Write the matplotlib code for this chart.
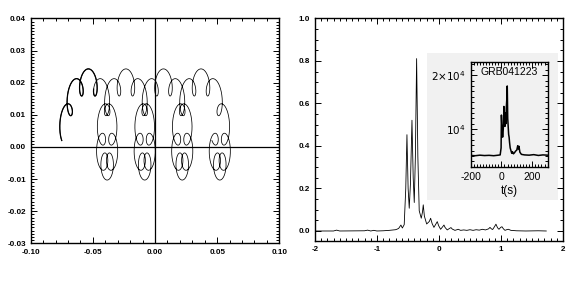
import numpy as np
import matplotlib
matplotlib.use('Agg')
import matplotlib.pyplot as plt
from matplotlib.patches import Rectangle
from matplotlib.ticker import MultipleLocator, FormatStrFormatter, FixedLocator

plt.rcParams['font.family'] = ['Liberation Sans', 'DejaVu Sans']
plt.rcParams['axes.unicode_minus'] = False

# --- left panel: track ---
loop_step = 0.0302          # distance between the big loops
big_rx, big_ry = 0.0116, 0.0135
small_radius = 0.0038
small_per_big = 9
track_origin = (-0.0687, 0.007)
track_turns = (1.45, 8 * np.pi + 1.45)
bold_until = np.pi + 0.5    # first part drawn heavier

# --- right panel: light curve ---
lc_x = [-2.0, -1.7, -1.65, -1.6, -1.2, -1.15, -1.1, -1.05, -1.0, -0.9, -0.8,
        -0.7, -0.68, -0.65, -0.613, -0.59, -0.56, -0.535, -0.516, -0.497,
        -0.479, -0.46, -0.435, -0.415, -0.398, -0.38, -0.36, -0.34, -0.318,
        -0.285, -0.265, -0.253, -0.235, -0.198, -0.155, -0.134, -0.11,
        -0.081, -0.045, -0.027, -0.005, 0.027, 0.06, 0.081, 0.1, 0.134, 0.17,
        0.194, 0.215, 0.258, 0.29, 0.31, 0.35, 0.4, 0.45, 0.5, 0.55, 0.6,
        0.65, 0.7, 0.75, 0.8, 0.823, 0.845, 0.866, 0.895, 0.919, 0.945,
        0.968, 0.995, 1.016, 1.04, 1.065, 1.1, 1.12, 1.16, 1.25, 1.4, 1.6,
        1.73]
lc_y = [0.0, 0.0, 0.004, 0.0, 0.001, 0.004, 0.0, 0.003, 0.0, 0.001, 0.003,
        0.006, 0.008, 0.012, 0.028, 0.014, 0.03, 0.2, 0.453, 0.2,
        0.107, 0.22, 0.521, 0.25, 0.134, 0.35, 0.811, 0.35, 0.095,
        0.06, 0.09, 0.123, 0.07, 0.033, 0.045, 0.06, 0.035,
        0.017, 0.035, 0.044, 0.025, 0.008, 0.02, 0.028, 0.016, 0.005, 0.012,
        0.016, 0.009, 0.003, 0.006, 0.008, 0.003, 0.005, 0.003, 0.006, 0.003,
        0.006, 0.004, 0.008, 0.005, 0.01, 0.017, 0.01, 0.007, 0.02, 0.032,
        0.015, 0.008, 0.017, 0.02, 0.01, 0.003, 0.007, 0.008, 0.003, 0.001,
        0.0, 0.001, 0.0]

# --- inset: GRB041223 counts ---
grb_t = [-200, -170, -140, -110, -80, -50, -20, -8, -2, 0, 4, 8, 11, 14,
         16, 20, 23, 26, 29, 32, 35, 38, 41, 44, 47, 50, 53, 57, 62, 67, 72,
         78, 85, 92, 100, 106, 110, 114, 120, 130, 150, 180, 210, 240, 270,
         300]
grb_c = [5100, 5050, 5150, 5080, 5120, 5050, 5150, 5200, 6500, 12600,
         10000, 8500, 9500, 11000, 14200, 12000, 10500, 13000, 11000, 14000,
         15500, 18000, 12000, 10500, 9000, 8500, 7500, 6500, 6000, 5500,
         5800, 5400, 5600, 5900, 6100, 6900, 6300, 6800, 5700, 5300, 5200,
         5150, 5250, 5100, 5200, 5150]


def idl_ticks(ax, size, major, minor, weight='normal'):
    ax.tick_params(which='both', direction='in', top=True, right=True,
                   labelsize=size, width=0.7)
    ax.tick_params(which='major', length=major)
    ax.tick_params(which='minor', length=minor)
    for lab in ax.get_xticklabels() + ax.get_yticklabels():
        lab.set_fontweight(weight)
    for s in ax.spines.values():
        s.set_linewidth(1.0)


fig = plt.figure(figsize=(5.81, 2.88), dpi=100)

# left panel
ax1 = fig.add_axes([0.0528, 0.155, 0.428, 0.781])
th = np.linspace(track_turns[0], track_turns[1], 10000)
step = loop_step / (2 * np.pi)
ang = small_per_big * th + np.pi
x = (track_origin[0] + step * th - big_rx * np.sin(th)
     + small_radius * np.sin(ang))
y = (track_origin[1] - big_ry * np.cos(th)
     + small_radius * np.cos(ang))
ax1.plot(x, y, color='black', lw=0.55)
first = th < bold_until
ax1.plot(x[first], y[first], color='black', lw=0.9)
ax1.axhline(0, color='black', lw=0.9)
ax1.axvline(0, color='black', lw=0.9)
ax1.set_xlim(-0.1, 0.1)
ax1.set_ylim(-0.03, 0.04)
ax1.xaxis.set_major_locator(MultipleLocator(0.05))
ax1.xaxis.set_minor_locator(MultipleLocator(0.01))
ax1.yaxis.set_major_locator(MultipleLocator(0.01))
ax1.yaxis.set_minor_locator(MultipleLocator(0.001))
ax1.xaxis.set_major_formatter(FormatStrFormatter('%.2f'))
ax1.yaxis.set_major_formatter(FormatStrFormatter('%.2f'))
idl_ticks(ax1, 5.8, 4, 2, 'bold')
ax1.tick_params(axis='x', pad=4)

# right panel
ax2 = fig.add_axes([0.542, 0.164, 0.427, 0.772])
ax2.add_patch(Rectangle((0.45, 0.183), 0.53, 0.661, transform=ax2.transAxes,
                        facecolor='#f1f1f1', edgecolor='none', zorder=0))
ax2.plot(lc_x, lc_y, color='black', lw=0.6)
ax2.set_xlim(-2, 2)
ax2.set_ylim(-0.046, 1.0)
ax2.xaxis.set_major_locator(MultipleLocator(1))
ax2.xaxis.set_minor_locator(MultipleLocator(0.1))
ax2.yaxis.set_major_locator(MultipleLocator(0.2))
ax2.yaxis.set_minor_locator(MultipleLocator(0.05))
ax2.xaxis.set_major_formatter(FormatStrFormatter('%d'))
ax2.yaxis.set_major_formatter(FormatStrFormatter('%.1f'))
idl_ticks(ax2, 5.8, 4, 2, 'bold')
ax2.tick_params(axis='x', pad=4)

# inset
ax3 = fig.add_axes([0.810, 0.421, 0.1325, 0.3646])
ax3.set_facecolor('#f1f1f1')
ax3.plot(grb_t, grb_c, color='black', lw=1.1)
ax3.set_xlim(-200, 300)
ax3.set_ylim(3000, 22500)
ax3.xaxis.set_major_locator(FixedLocator([-200, 0, 200]))
ax3.xaxis.set_minor_locator(MultipleLocator(20))
ax3.yaxis.set_major_locator(FixedLocator([10000, 20000]))
ax3.yaxis.set_minor_locator(MultipleLocator(1000))
ax3.set_yticklabels([r'$10^4$', r'$2{\times}10^4$'])
idl_ticks(ax3, 7.5, 4, 2)
ax3.set_xlabel('t(s)', fontsize=8.5, labelpad=2.5)
ax3.text(0.5, 0.9, 'GRB041223', transform=ax3.transAxes, ha='center',
         va='center', fontsize=7.5)

fig.savefig('out.png', dpi=100)
